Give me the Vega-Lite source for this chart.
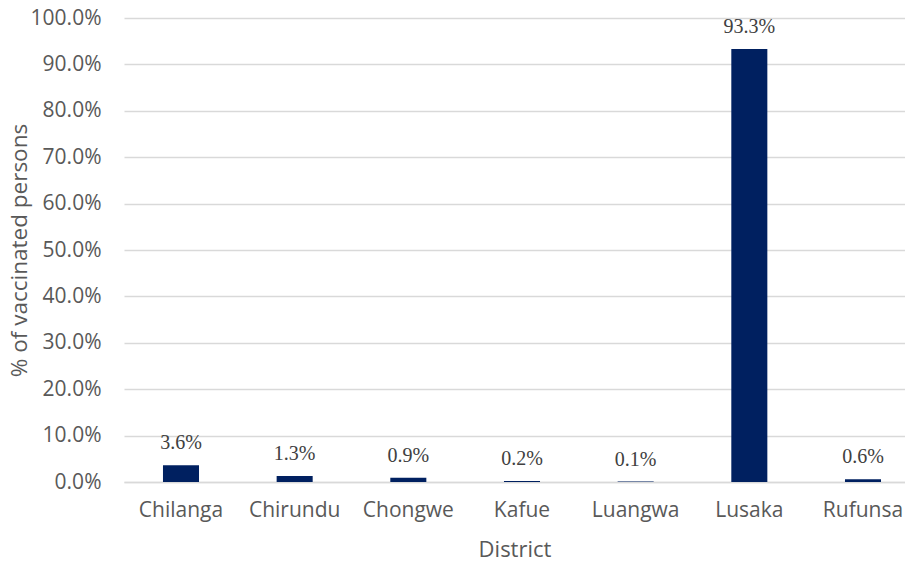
{
  "$schema": "https://vega.github.io/schema/vega-lite/v6.json",
  "width": 781,
  "height": 464,
  "autosize": {"type": "none"},
  "padding": {"left": 124, "top": 18, "right": 0, "bottom": 80},
  "background": "#ffffff",
  "config": {"view": {"stroke": null}},
  "data": {
    "values": [
      {"district": "Chilanga", "pct": 0.036},
      {"district": "Chirundu", "pct": 0.013},
      {"district": "Chongwe", "pct": 0.009},
      {"district": "Kafue", "pct": 0.002},
      {"district": "Luangwa", "pct": 0.001},
      {"district": "Lusaka", "pct": 0.933},
      {"district": "Rufunsa", "pct": 0.006}
    ]
  },
  "encoding": {
    "x": {
      "field": "district",
      "type": "nominal",
      "sort": null,
      "scale": {"paddingInner": 0.683, "paddingOuter": 0.277, "align": 0.619},
      "axis": {
        "title": "District",
        "titleFont": "Open Sans",
        "titleFontSize": 22,
        "titleFontWeight": "normal",
        "titleColor": "#595959",
        "titlePadding": 19,
        "labelFont": "Open Sans",
        "labelFontSize": 21,
        "labelColor": "#595959",
        "labelAngle": 0,
        "labelPadding": 17,
        "ticks": false,
        "domainColor": "#d9d9d9",
        "domainWidth": 1.5
      }
    },
    "y": {
      "field": "pct",
      "type": "quantitative",
      "scale": {"domain": [0, 1], "nice": false},
      "axis": {
        "title": "% of vaccinated persons",
        "titleFont": "Open Sans",
        "titleFontSize": 22.5,
        "titleFontWeight": "normal",
        "titleColor": "#595959",
        "titlePadding": -1,
        "format": ".1%",
        "values": [0, 0.1, 0.2, 0.3, 0.4, 0.5, 0.6, 0.7, 0.8, 0.9, 1.0],
        "labelFont": "Open Sans",
        "labelFontSize": 21,
        "labelColor": "#595959",
        "labelPadding": 23,
        "ticks": false,
        "domain": false,
        "gridColor": "#d9d9d9",
        "gridWidth": 1.5
      }
    }
  },
  "layer": [
    {"mark": {"type": "bar", "color": "#002060"}},
    {
      "mark": {
        "type": "text",
        "font": "Liberation Serif",
        "fontSize": 20,
        "color": "#404040",
        "baseline": "alphabetic",
        "dy": -16
      },
      "encoding": {"text": {"field": "pct", "type": "quantitative", "format": ".1%"}}
    }
  ]
}
